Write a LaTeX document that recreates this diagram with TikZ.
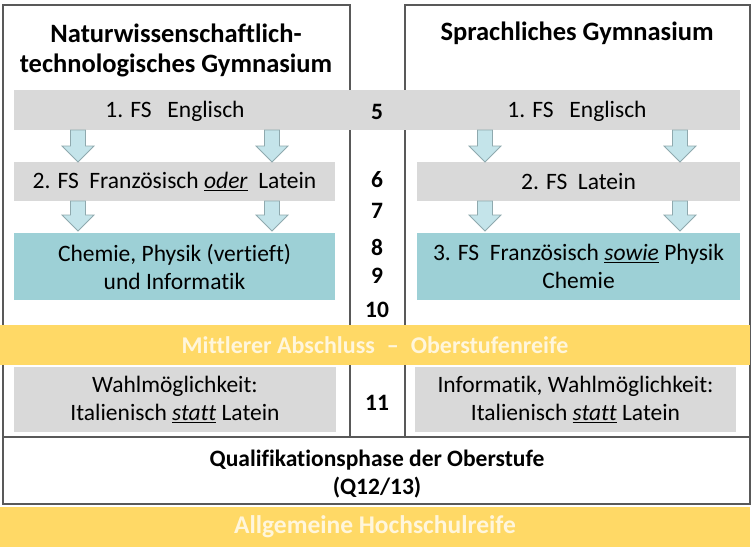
\documentclass[tikz,border=0pt]{standalone}
\usepackage{fontspec}
\setmainfont[Ligatures={NoCommon}]{Carlito}
\usetikzlibrary{calc}
\definecolor{barGray}{HTML}{D9D9D9}
\definecolor{tealFill}{HTML}{9DD0D6}
\definecolor{arrowFill}{HTML}{C4E4EA}
\definecolor{arrowEdge}{HTML}{8FA9AE}
\definecolor{goldFill}{HTML}{FFD966}
\definecolor{goldText}{HTML}{FFF6DC}
\definecolor{frameLine}{HTML}{595959}
\newcommand{\ulit}[1]{\underline{\textit{#1}}}
\tikzset{
  txt/.style={font=\fontsize{23.5}{28}\selectfont, align=center, inner sep=0pt},
  colframe/.style={draw=frameLine, line width=1.1pt},
  graybox/.style={txt, fill=barGray},
  tealbox/.style={txt, fill=tealFill},
  goldbar/.style={txt, fill=goldFill, text=goldText, font=\fontsize{24}{28}\selectfont\bfseries},
  gradenum/.style={txt, font=\fontsize{23.5}{28}\selectfont\bfseries},
  heading/.style={txt, font=\fontsize{26.5}{30}\selectfont\bfseries},
  blockarrow/.style={draw=arrowEdge, fill=arrowFill, line width=0.8pt,
    to path={let \p1=(\tikztostart), \p2=(\tikztotarget) in
      (\x1-7.5,\y1) -- (\x1-7.5,\y2+16) -- (\x1-16,\y2+16) -- (\x1,\y2)
      -- (\x1+16,\y2+16) -- (\x1+7.5,\y2+16) -- (\x1+7.5,\y1) -- cycle}}
}
\begin{document}
\begin{tikzpicture}[x=1pt,y=-1pt]
  \useasboundingbox (0,0) rectangle (754,550);
  % frames of the two branches and of the upper stage
  \draw[colframe] (3,5) rectangle (350,437);
  \draw[colframe] (405,5) rectangle (750,437);
  \draw[colframe] (3,437) rectangle (750,504);
  % headings
  \node[heading] (natHead) at (176,50) {Naturwissenschaftlich-\\technologisches Gymnasium};
  \node[heading] (sprHead) at (577,33) {Sprachliches Gymnasium};
  % grade 5
  \node[graybox, minimum width=726, minimum height=40] (fsOne) at (377,110) {};
  \node[txt] (natOne) at (175,111) {1. FS\ \ \ Englisch};
  \node[txt] (sprOne) at (577,111) {1. FS\ \ \ Englisch};
  % grades 6 and 7
  \node[graybox, minimum width=321, minimum height=39] (natTwo) at (174.5,181.5)
    {2. FS\ \ Französisch \ulit{oder}\ \ Latein};
  \node[graybox, minimum width=323, minimum height=39] (sprTwo) at (578.5,181.5)
    {2. FS\ \ Latein};
  % grades 8 to 10
  \node[tealbox, minimum width=321, minimum height=67] (natThree) at (174.5,266.5)
    {Chemie, Physik (vertieft)\\und Informatik};
  \node[tealbox, minimum width=323, minimum height=67] (sprThree) at (578.5,266.5)
    {3. FS\ \ Französisch \ulit{sowie} Physik\\Chemie};
  % arrows
  \coordinate (a1) at (78,130);  \coordinate (a1e) at (78,162);
  \coordinate (a2) at (272,130); \coordinate (a2e) at (272,162);
  \coordinate (a3) at (485,130); \coordinate (a3e) at (485,162);
  \coordinate (a4) at (680,130); \coordinate (a4e) at (680,162);
  \coordinate (b1) at (78,201);  \coordinate (b1e) at (78,231);
  \coordinate (b2) at (272,201); \coordinate (b2e) at (272,231);
  \coordinate (b3) at (485,201); \coordinate (b3e) at (485,231);
  \coordinate (b4) at (680,201); \coordinate (b4e) at (680,231);
  \foreach \s in {a1,a2,a3,a4,b1,b2,b3,b4}
    \draw[blockarrow] (\s) to (\s e);
  % grade numbers
  \node[gradenum] (g5) at (377,112) {5};
  \node[gradenum] (g6) at (377,180) {6};
  \node[gradenum] (g7) at (377,211) {7};
  \node[gradenum] (g8) at (377,247) {8};
  \node[gradenum] (g9) at (377,276) {9};
  \node[gradenum] (g10) at (377,310) {10};
  % Mittlerer Abschluss
  \node[goldbar, minimum width=750, minimum height=40] (midExam) at (375,345)
    {Mittlerer Abschluss\enspace--\enspace Oberstufenreife};
  % grade 11
  \node[graybox, minimum width=322, minimum height=65] (natEleven) at (175,399.5)
    {Wahlmöglichkeit:\\Italienisch \ulit{statt} Latein};
  \node[graybox, minimum width=321, minimum height=65] (sprEleven) at (575.5,399.5)
    {Informatik, Wahlmöglichkeit:\\Italienisch \ulit{statt} Latein};
  \node[gradenum] (g11) at (377,403) {11};
  % upper stage
  \node[txt, font=\fontsize{23.5}{28}\selectfont\bfseries] (qPhase) at (377,474)
    {Qualifikationsphase der Oberstufe\\(Q12/13)};
  \node[goldbar, font=\fontsize{25.5}{28}\selectfont\bfseries, minimum width=750,
    minimum height=40] (abitur) at (375,527) {Allgemeine Hochschulreife};
\end{tikzpicture}
\end{document}
